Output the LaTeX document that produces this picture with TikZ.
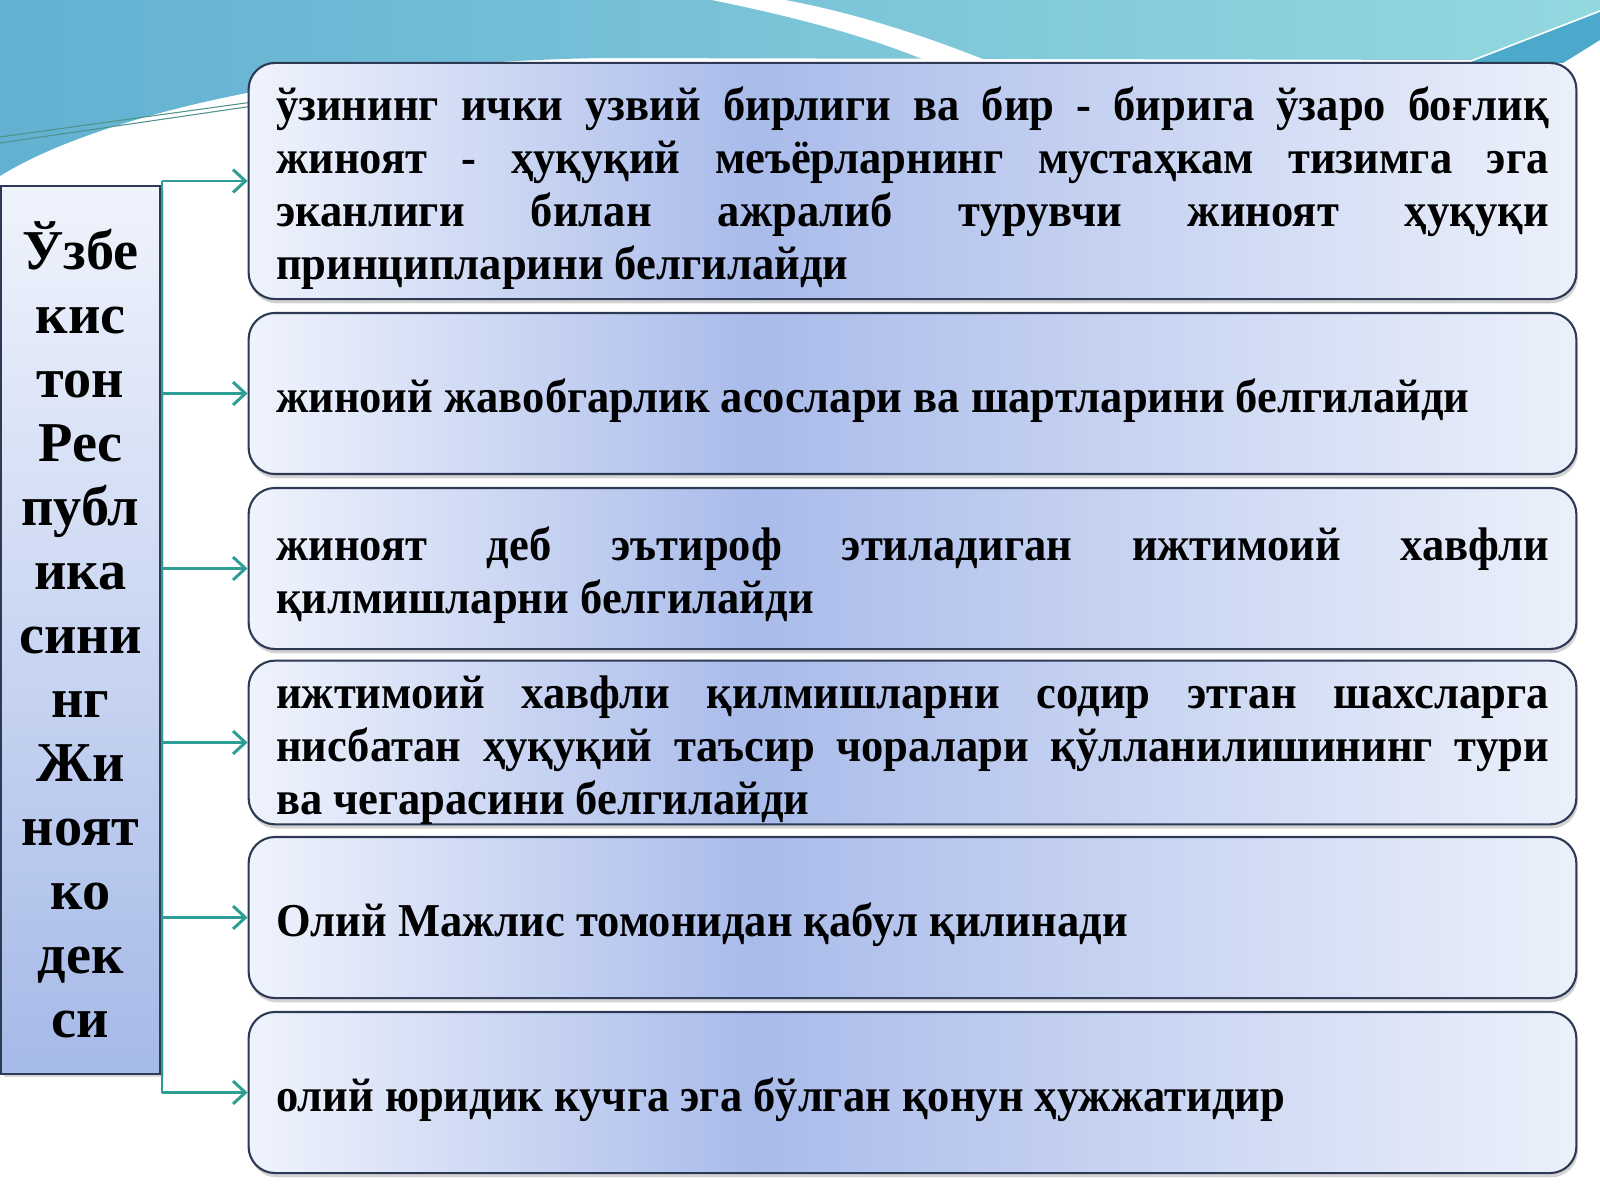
\documentclass[tikz,border=0pt]{standalone}
\usepackage{fontspec}
\setmainfont{Liberation Serif}
\newfontfamily\itemfont[FakeStretch=0.945]{Liberation Serif}
\usetikzlibrary{arrows.meta,shadows}
\hyphenpenalty=10000
\exhyphenpenalty=10000

\definecolor{bandL}{HTML}{62B1D2}
\definecolor{bandR}{HTML}{93D8DF}
\definecolor{stripe}{HTML}{4DA9CC}
\definecolor{boxL}{HTML}{EFF3FC}
\definecolor{boxM}{HTML}{A9BBEA}
\definecolor{boxR}{HTML}{EBF0FA}
\definecolor{codeB}{HTML}{A6BAE8}
\definecolor{edge}{HTML}{2E3A55}
\definecolor{linkc}{HTML}{2E9E94}

\pgfdeclarehorizontalshading{itemshade}{100bp}{color(0bp)=(boxL); color(25bp)=(boxL); color(44bp)=(boxM); color(75bp)=(boxR); color(100bp)=(boxR)}

\tikzset{
  item/.style={draw=edge, line width=0.6pt, rounded corners=7.5pt, shade, shading=itemshade,
    minimum width=13.27cm, text width=12.72cm, inner xsep=0.27cm, inner ysep=0pt,
    align=justify, font=\itemfont\fontsize{13.4}{15.1}\selectfont\bfseries,
    execute at begin node={\noindent\vrule width 0pt height 13.5pt\relax},
    drop shadow={shadow xshift=0.4pt, shadow yshift=-1.2pt, opacity=0.35}},
  codebox/.style={draw=edge, line width=0.6pt, top color=boxL, bottom color=codeB,
    minimum width=1.59cm, minimum height=8.87cm, align=center,
    font=\fontsize{16}{18.2}\selectfont\bfseries,
    drop shadow={shadow xshift=1pt, shadow yshift=-1pt, opacity=0.3}},
  tie/.style={draw=linkc, line width=0.85pt, -{Straight Barb[length=3.5pt,width=6.5pt]}},
  thinline/.style={draw=linkc!60!gray, line width=0.3pt}
}

\begin{document}
\begin{tikzpicture}[x=0.01cm, y=-0.01cm]
    \useasboundingbox (0,0) rectangle (1600,1200);

    % Sky band at the top
    \shade[left color=bandL, right color=bandR] (0,0) -- (0,176)
        .. controls (90,120) and (300,64) .. (600,58) -- (1471,60) -- (1600,10) -- (1600,0) -- cycle;
    \fill[white] (712,0) .. controls (820,22) and (880,42) .. (925,60) -- (985,60)
        .. controls (920,34) and (850,12) .. (785,0) -- cycle;
    \fill[stripe] (1471,62) -- (1600,12) -- (1600,40) -- (1563,63) -- cycle;
    \draw[thinline] (0,143) -- (260,105);
    \draw[thinline] (0,137) -- (260,101);

    % Code on the left
    \node[codebox] (kodeks) at (80.5,630) {Ўзбе\\кис\\тон\\Рес\\публ\\ика\\сини\\нг\\Жи\\ноят\\ко\\дек\\си};

    % Features
    \node[item, minimum height=2.36cm] (p1) at (912.5,181) {ўзининг ички узвий бирлиги ва бир - бирига ўзаро боғлиқ\linebreak жиноят - ҳуқуқий меъёрларнинг мустаҳкам тизимга эга\linebreak эканлиги билан ажралиб турувчи жиноят ҳуқуқи\linebreak принципларини белгилайди};
    \node[item, minimum height=1.61cm] (p2) at (912.5,393.5) {жиноий жавобгарлик асослари ва шартларини белгилайди};
    \node[item, minimum height=1.61cm] (p3) at (912.5,568.5) {жиноят деб эътироф этиладиган ижтимоий хавфли\linebreak қилмишларни белгилайди};
    \node[item, minimum height=1.59cm] (p4) at (912.5,742.5) {ижтимоий хавфли қилмишларни содир этган шахсларга\linebreak нисбатан ҳуқуқий таъсир чоралари қўлланилишининг тури\linebreak ва чегарасини белгилайди};
    \node[item, minimum height=1.61cm] (p5) at (912.5,917.5) {Олий Мажлис томонидан қабул қилинади};
    \node[item, minimum height=1.61cm] (p6) at (912.5,1092.5) {олий юридик кучга эга бўлган қонун ҳужжатидир};

    % Connectors
    \coordinate (spine) at (162,0);
    \draw[draw=linkc, line width=0.85pt] (spine |- p1.west) -- (spine |- p6.west);
    \foreach \i in {1,...,6}
        \draw[tie] (spine |- p\i.west) -- (p\i.west);
\end{tikzpicture}
\end{document}
